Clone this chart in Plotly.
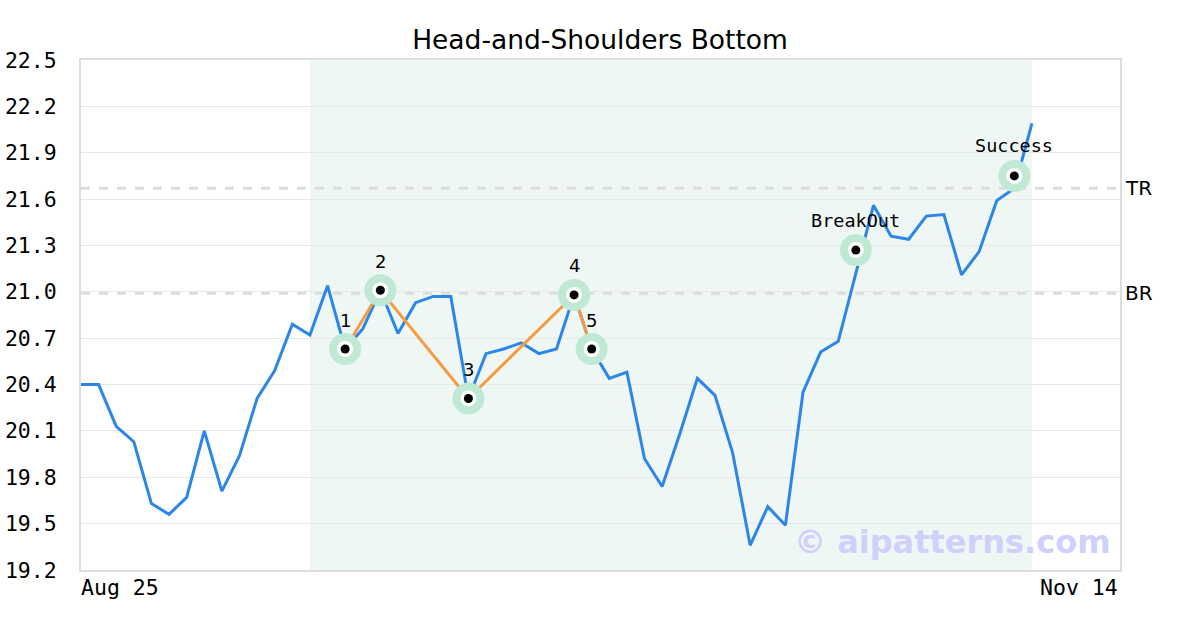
import plotly.graph_objects as go

# daily closes, Aug 25 .. Nov 14 (trading days)
close = [20.40, 20.40, 20.13, 20.03, 19.63, 19.56, 19.67, 20.10, 19.71, 19.94,
         20.31, 20.49, 20.79, 20.72, 21.04, 20.63, 20.76, 21.01, 20.73, 20.93,
         20.97, 20.97, 20.31, 20.60, 20.63, 20.67, 20.60, 20.63, 20.98, 20.63,
         20.44, 20.48, 19.92, 19.74, 20.08, 20.44, 20.33, 19.96, 19.36, 19.61,
         19.49, 20.35, 20.61, 20.68, 21.12, 21.56, 21.36, 21.34, 21.49, 21.50,
         21.11, 21.26, 21.59, 21.67, 22.09]
days = list(range(len(close)))

pattern_idx = [15, 17, 22, 28, 29]
pattern_val = [20.63, 21.01, 20.31, 20.98, 20.63]
pattern_lbl = ["1", "2", "3", "4", "5"]

event_idx = [44, 53]
event_val = [21.27, 21.75]
event_lbl = ["BreakOut", "Success"]

tr_level = 21.67
br_level = 20.99
zone = (13, 54)
x_max = 59
y_ticks = [19.2, 19.5, 19.8, 20.1, 20.4, 20.7, 21.0, 21.3, 21.6, 21.9, 22.2, 22.5]

MONO = "DejaVu Sans Mono"
SANS = "DejaVu Sans"

fig = go.Figure()

fig.add_trace(go.Scatter(x=days, y=close, mode="lines",
                         line=dict(color="#2b86e8", width=3), hoverinfo="skip"))
fig.add_trace(go.Scatter(x=pattern_idx, y=pattern_val, mode="lines",
                         line=dict(color="#f59b42", width=3), hoverinfo="skip"))

mx = pattern_idx + event_idx
my = pattern_val + event_val
# halo, white ring, black dot
for size, col in [(32, "#bfe9d5"), (16, "white"), (9, "black")]:
    fig.add_trace(go.Scatter(x=mx, y=my, mode="markers",
                             marker=dict(size=size, color=col, line=dict(width=0)),
                             hoverinfo="skip"))

for i, v, t in zip(pattern_idx, pattern_val, pattern_lbl):
    fig.add_annotation(x=i, y=v, text=t, showarrow=False, yshift=29,
                       font=dict(family=SANS, size=18, color="black"))
for i, v, t in zip(event_idx, event_val, event_lbl):
    fig.add_annotation(x=i, y=v, text=t, showarrow=False, yshift=30,
                       font=dict(family=MONO, size=18.5, color="black"))

fig.add_shape(type="rect", x0=zone[0], x1=zone[1], y0=0, y1=1, xref="x", yref="paper",
              fillcolor="#eef7f3", line=dict(width=0), layer="below")
for lvl, name in [(tr_level, "TR"), (br_level, "BR")]:
    fig.add_shape(type="line", x0=0, x1=x_max, y0=lvl, y1=lvl, xref="x", yref="y",
                  line=dict(color="#dddddd", width=3, dash="dash"), layer="below")
    fig.add_annotation(x=1, xref="paper", y=lvl, yref="y", text=name, showarrow=False,
                       xanchor="left", xshift=3, font=dict(family=SANS, size=20, color="black"))

fig.add_annotation(x=0, xref="paper", y=0, yref="paper", text="Aug 25", showarrow=False,
                   xanchor="left", yanchor="top", yshift=-3, xshift=-2,
                   font=dict(family=MONO, size=21.5, color="black"))
fig.add_annotation(x=1, xref="paper", y=0, yref="paper", text="Nov 14", showarrow=False,
                   xanchor="right", yanchor="top", yshift=-3,
                   font=dict(family=MONO, size=21.5, color="black"))

fig.add_annotation(x=0.993, xref="paper", y=0.055, yref="paper", text="<b>© aipatterns.com</b>",
                   showarrow=False, xanchor="right", yanchor="middle",
                   font=dict(family=SANS, size=32, color="#cfd0fb"))

fig.update_layout(
    width=1200, height=630,
    margin=dict(l=81, r=80, t=60, b=60),
    plot_bgcolor="white", paper_bgcolor="white",
    showlegend=False,
    title=dict(text="Head-and-Shoulders Bottom", x=0.5, xanchor="center", y=0.937, yanchor="middle",
               font=dict(family=SANS, size=26.5, color="black")),
    xaxis=dict(range=[0, x_max], showgrid=False, zeroline=False, showticklabels=False,
               showline=True, mirror=True, linecolor="#dddddd", linewidth=2, automargin=False),
    yaxis=dict(range=[19.2, 22.5], tickvals=y_ticks, ticktext=[f"{t:.1f}" for t in y_ticks],
               showgrid=True, gridcolor="#e8e8e8", gridwidth=1, zeroline=False,
               showline=True, mirror=True, linecolor="#dddddd", linewidth=2,
               ticks="", ticklabelstandoff=18, automargin=False,
               tickfont=dict(family=MONO, size=21.5, color="black")),
)

fig.write_html("out.html", config={"displayModeBar": False},
               post_script="document.body.style.margin='0';")
